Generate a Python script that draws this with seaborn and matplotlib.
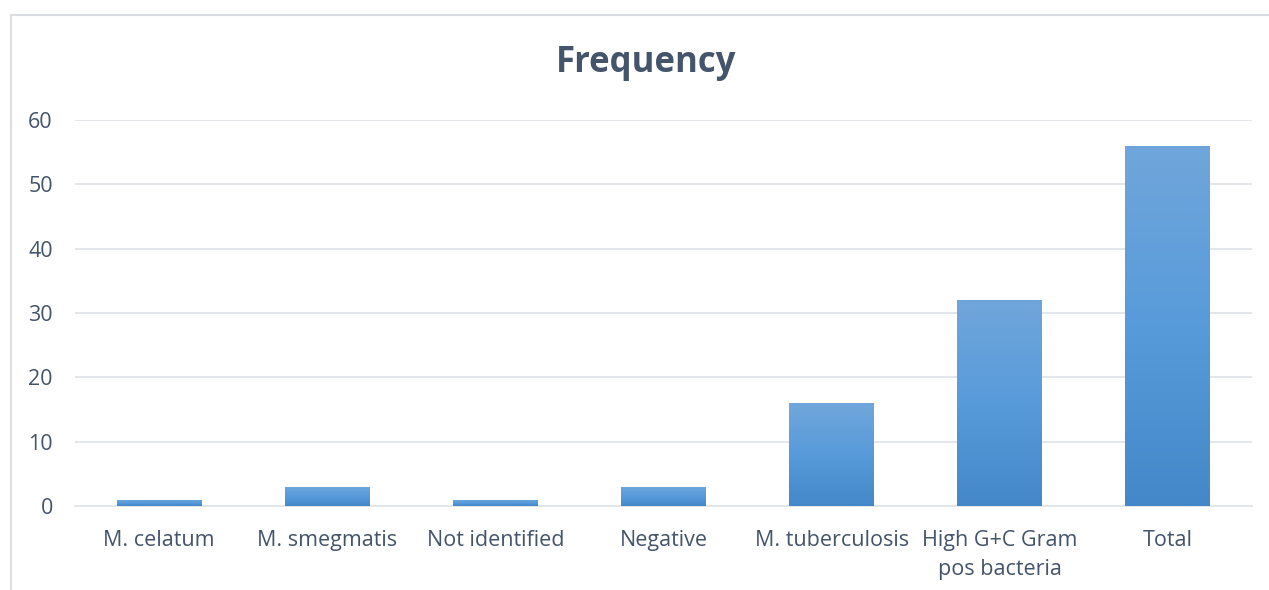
import numpy as np
import pandas as pd
import matplotlib
matplotlib.use("Agg")
import matplotlib.pyplot as plt
from matplotlib.colors import LinearSegmentedColormap
from matplotlib.patches import Rectangle
import seaborn as sns

categories = ["M. celatum", "M. smegmatis", "Not identified", "Negative",
              "M. tuberculosis", "High G+C Gram\npos bacteria", "Total"]
frequency = [1, 3, 1, 3, 16, 32, 56]
y_ticks = [0, 10, 20, 30, 40, 50, 60]

df = pd.DataFrame({"category": categories, "frequency": frequency})

sns.set_theme(style="white")
plt.rcParams["font.family"] = ["Open Sans", "DejaVu Sans"]

text_color = "#44546A"
grid_color = "#E1E4E8"

fig = plt.figure(figsize=(12.69, 5.90), dpi=100)
ax = fig.add_axes([75 / 1269, 1 - 506 / 590, (1252 - 75) / 1269, (506 - 120) / 590])

sns.barplot(data=df, x="category", y="frequency", color="#5B9BD5",
            width=0.505, ax=ax, zorder=3)

ax.set_ylim(0, 60)
ax.set_xlim(-0.5, len(categories) - 0.5)
ax.set_yticks(y_ticks)
ax.yaxis.grid(True, color=grid_color, linewidth=1.3, zorder=0)
ax.xaxis.grid(False)
for side in ["top", "right", "left"]:
    ax.spines[side].set_visible(False)
ax.spines["bottom"].set_color(grid_color)
ax.spines["bottom"].set_linewidth(1.3)
ax.tick_params(axis="both", length=0, labelsize=15.5, colors=text_color)
ax.tick_params(axis="y", pad=16)
ax.tick_params(axis="x", pad=17.5)
ax.set_xlabel("")
ax.set_ylabel("")
for lbl in ax.get_xticklabels():
    lbl.set_linespacing(1.45)

# vertical gradient fill for each bar
cmap = LinearSegmentedColormap.from_list(
    "bar_grad", ["#4488C9", "#589BDA", "#70A6DB"])
grad = np.linspace(0, 1, 256).reshape(-1, 1)
for patch in list(ax.patches):
    x0, y0 = patch.get_x(), patch.get_y()
    w, h = patch.get_width(), patch.get_height()
    im = ax.imshow(grad, cmap=cmap, aspect="auto", origin="lower",
                   extent=[x0, x0 + w, y0, y0 + h], zorder=3.5)
    im.set_clip_path(patch)
    patch.set_facecolor("none")
    patch.set_edgecolor("none")
ax.set_xlim(-0.5, len(categories) - 0.5)
ax.set_ylim(0, 60)

fig.text(646 / 1269, 1 - 63 / 590, "Frequency", ha="center", va="center",
         fontsize=25, fontweight="bold", color=text_color)

# chart frame
fig.patches.append(Rectangle((11 / 1269, -0.1), 1.2, 1 - 15 / 590 + 0.1,
                             transform=fig.transFigure, fill=False,
                             edgecolor="#DADDE2", linewidth=1.5))

fig.savefig("out.png", dpi=100, facecolor="white")
